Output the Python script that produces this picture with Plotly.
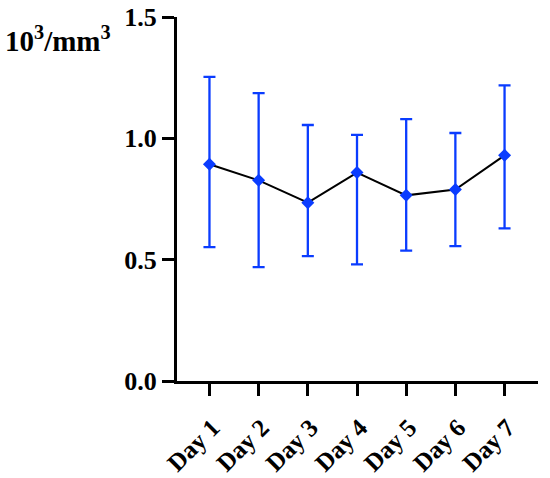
import plotly.graph_objects as go

days = ["Day 1", "Day 2", "Day 3", "Day 4", "Day 5", "Day 6", "Day 7"]
means = [0.893, 0.827, 0.735, 0.859, 0.765, 0.789, 0.930]
upper = [1.253, 1.186, 1.055, 1.014, 1.079, 1.022, 1.218]
lower = [0.552, 0.469, 0.515, 0.481, 0.537, 0.556, 0.629]

err_plus = [u - m for u, m in zip(upper, means)]
err_minus = [m - l for m, l in zip(means, lower)]

blue = "#0a3cff"
fig = go.Figure()
fig.add_trace(go.Scatter(
    x=days, y=means, mode="lines+markers",
    line=dict(color="black", width=2),
    marker=dict(symbol="diamond", size=10, color=blue),
    error_y=dict(type="data", symmetric=False, array=err_plus, arrayminus=err_minus,
                 color=blue, thickness=2.3, width=6),
    showlegend=False,
))

font_family = "Liberation Serif"
fig.update_layout(
    width=550, height=478,
    margin=dict(l=177, r=12, t=17, b=97, autoexpand=False),
    plot_bgcolor="white", paper_bgcolor="white",
    font=dict(family=font_family, color="black"),
    xaxis=dict(
        type="category", range=[-0.66, 6.68], automargin=False,
        showline=True, linecolor="black", linewidth=3,
        ticks="outside", ticklen=12, tickwidth=3, tickcolor="black",
        tickangle=-45, showgrid=False, zeroline=False,
        ticklabelstandoff=7, ticklabelshift=3, ticklabeloverflow="allow",
        tickfont=dict(family=font_family, size=25, color="black", weight="bold"),
    ),
    yaxis=dict(
        range=[0, 1.5], tickvals=[0, 0.5, 1.0, 1.5], tickformat=".1f", automargin=False,
        showline=True, linecolor="black", linewidth=3,
        ticks="outside", ticklen=12, tickwidth=3, tickcolor="black",
        showgrid=False, zeroline=False, ticklabeloverflow="allow",
        tickfont=dict(family=font_family, size=26, color="black", weight="bold"),
    ),
    annotations=[dict(
        text="<b>10<sup>3</sup>/mm<sup>3</sup></b>", xref="paper", yref="paper",
        x=-0.482, y=0.94, xanchor="left", yanchor="middle", showarrow=False,
        font=dict(family=font_family, size=29, color="black"),
    )],
)

fig.write_html("out.html", config={"displayModeBar": False},
               post_script="document.body.style.margin='0px';")
